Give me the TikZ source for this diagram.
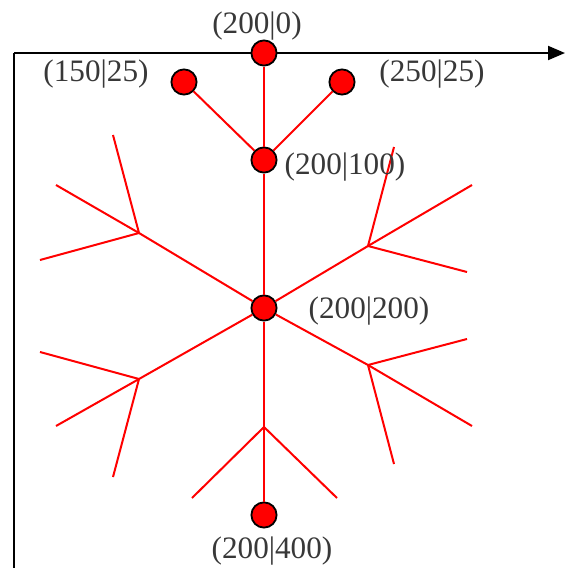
\documentclass[tikz,border=0pt]{standalone}
\usepackage{fontspec}
\setmainfont{Liberation Serif}
\usetikzlibrary{arrows.meta}

\begin{document}
\begin{tikzpicture}[x=0.5pt,y=-0.5pt]
    \tikzset{vertex/.style = {shape=circle,draw=black,fill=red,line width=0.9pt,minimum size=12.6pt,inner sep=0pt}}
    \tikzset{vertex2/.style = {shape=rectangle,draw=none,inner sep=0pt,text=black!78,font=\fontsize{15.6}{18}\selectfont}}
    \tikzset{edge/.style = {red,line width=1pt}}
    \tikzset{axis/.style = {black,line width=1pt}}

    \useasboundingbox (0,0) rectangle (567,568);

    % axes
    \coordinate (o) at (14,53);
    \coordinate (xa) at (565,53);
    \coordinate (ya) at (14,570);
    \draw[axis,-{Triangle[length=8.5pt,width=7pt]}] (o) -- (xa);
    \draw[axis] (o) -- (ya);

    % junctions and leaves
    \coordinate (jlu) at (139,233);
    \coordinate (jru) at (368,246);
    \coordinate (jld) at (139,379);
    \coordinate (jrd) at (368,365);
    \coordinate (jb) at (264,427);

    \coordinate (lu1) at (113,135);
    \coordinate (lu2) at (56,185);
    \coordinate (lu3) at (40,260);
    \coordinate (ru1) at (394,147);
    \coordinate (ru2) at (472,185);
    \coordinate (ru3) at (467,272);
    \coordinate (ld1) at (40,352);
    \coordinate (ld2) at (56,426);
    \coordinate (ld3) at (113,477);
    \coordinate (rd1) at (467,339);
    \coordinate (rd2) at (472,426);
    \coordinate (rd3) at (394,464);
    \coordinate (b1) at (192,498);
    \coordinate (b2) at (337,498);

    % vertices
    \node[vertex] (p0) at (264,53) {};
    \node[vertex] (p1) at (184,82) {};
    \node[vertex] (p2) at (342,82) {};
    \node[vertex] (p100) at (264,160) {};
    \node[vertex] (p200) at (264,308) {};
    \node[vertex] (p400) at (264,515) {};

    %edges
    \draw[edge] (p0) to (p100);
    \draw[edge] (p1) to (p100);
    \draw[edge] (p2) to (p100);
    \draw[edge] (p100) to (p200);
    \draw[edge] (p200) to (jb);
    \draw[edge] (jb) to (p400);
    \draw[edge] (jb) to (b1);
    \draw[edge] (jb) to (b2);
    \draw[edge] (p200) to (jlu);
    \draw[edge] (p200) to (jru);
    \draw[edge] (p200) to (jld);
    \draw[edge] (p200) to (jrd);
    \draw[edge] (jlu) to (lu1);
    \draw[edge] (jlu) to (lu2);
    \draw[edge] (jlu) to (lu3);
    \draw[edge] (jru) to (ru1);
    \draw[edge] (jru) to (ru2);
    \draw[edge] (jru) to (ru3);
    \draw[edge] (jld) to (ld1);
    \draw[edge] (jld) to (ld2);
    \draw[edge] (jld) to (ld3);
    \draw[edge] (jrd) to (rd1);
    \draw[edge] (jrd) to (rd2);
    \draw[edge] (jrd) to (rd3);

    % labels
    \node[vertex2] (t0) at (257,26) {(200|0)};
    \node[vertex2] (t1) at (96,74) {(150|25)};
    \node[vertex2] (t2) at (432,74) {(250|25)};
    \node[vertex2] (t100) at (345,167) {(200|100)};
    \node[vertex2] (t200) at (369,311) {(200|200)};
    \node[vertex2] (t400) at (272,551) {(200|400)};
\end{tikzpicture}
\end{document}
